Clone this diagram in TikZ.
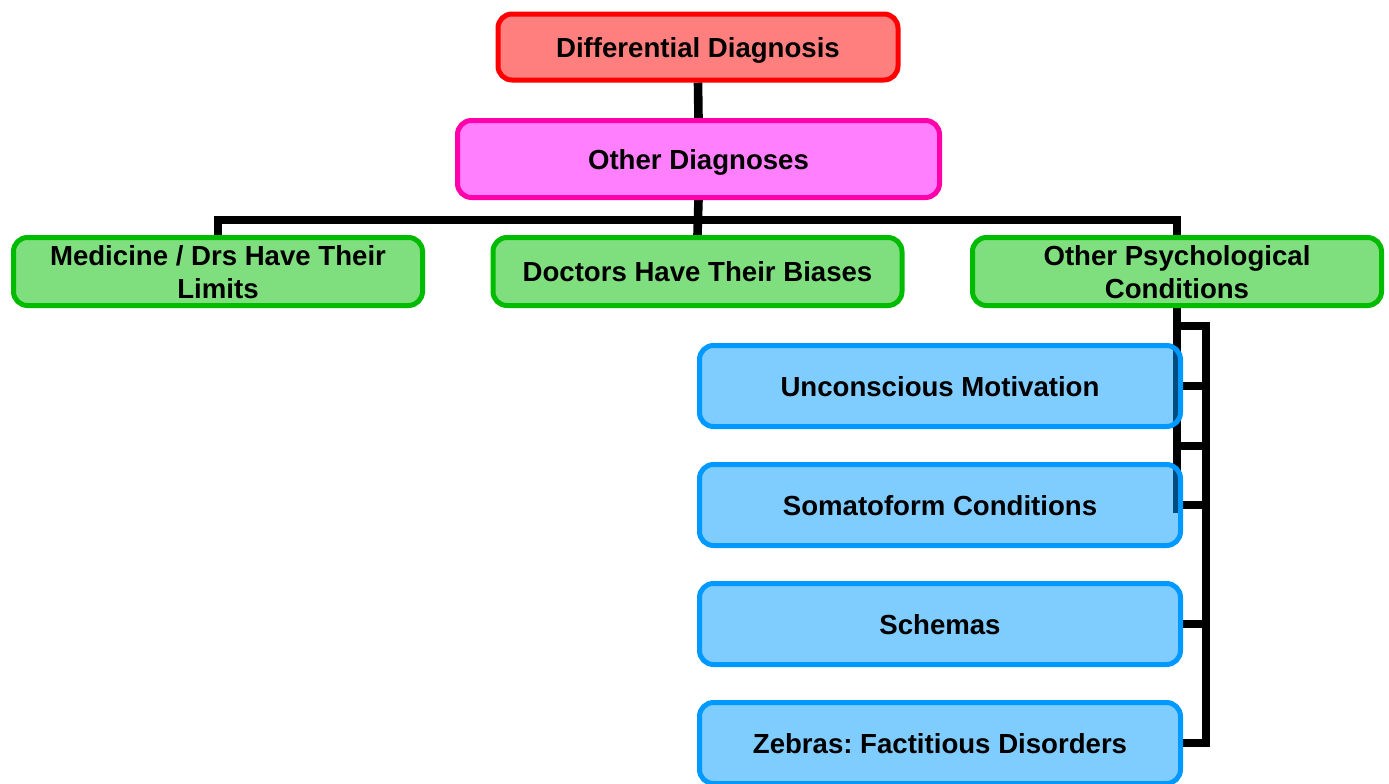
\documentclass[tikz,border=0pt]{standalone}
\usepackage{fontspec}
\setmainfont{Liberation Sans}
\usepackage{xcolor}
\usetikzlibrary{calc, backgrounds}
\definecolor{ddred}{HTML}{FF0000}
\definecolor{odpink}{HTML}{FF00FF}
\definecolor{odedge}{HTML}{FF00AA}
\definecolor{grgreen}{HTML}{00C000}
\definecolor{gredge}{HTML}{00BB00}
\definecolor{blblue}{HTML}{0099FF}
\frenchspacing

\begin{document}
\begin{tikzpicture}[x=0.5pt, y=-0.5pt,
	box/.style={draw, line width=2.5pt, rounded corners=7pt, fill opacity=0.5, text opacity=1, inner sep=0pt, text depth=0pt, align=center, font=\bfseries\fontsize{13.8}{16.5}\selectfont},
	topbox/.style={box, draw=ddred, fill=ddred, minimum width=200pt, minimum height=33pt},
	midbox/.style={box, draw=odedge, fill=odpink, minimum width=241pt, minimum height=38.5pt},
	subbox/.style={box, draw=gredge, fill=grgreen, minimum width=204.5pt, minimum height=34pt},
	leafbox/.style={box, draw=blblue, fill=blblue, minimum width=240.5pt, minimum height=40.5pt},
	link/.style={line width=4.3pt}]
	\useasboundingbox (0,0) rectangle (1389,783);
	\clip (0,0) rectangle (1389,783);
	\node [topbox] (dd) at (698,47) {Differential Diagnosis};
	\node [midbox] (od) at (698.5,159) {Other Diagnoses};
	\node [subbox] (med) at (218,271.5) {Medicine / Drs Have Their\\Limits};
	\node [subbox] (bias) at (697.5,271.5) {Doctors Have Their Biases};
	\node [subbox] (psych) at (1177,271.5) {Other Psychological\\Conditions};
	\node [leafbox] (unc) at (940,386) {Unconscious Motivation};
	\node [leafbox] (som) at (940,505) {Somatoform Conditions};
	\node [leafbox] (sch) at (940,624) {Schemas};
	\node [leafbox] (zeb) at (940,743) {Zebras: Factitious Disorders};
	\coordinate (J) at (698,220);
	\coordinate (R) at (1206,326);
	\begin{scope}[on background layer]
		\draw [link] (dd.south) -- (od.north);
		\draw [link] (od.south) -- (bias.north);
		\draw [link] (med.north) |- (J) -| (psych.north);
		\draw [link] (psych.south) -- ++(0,205);
		\draw [link] (psych.south |- R) -- (R) |- (zeb.east);
		\draw [link] (unc.east) -- (unc.east -| R);
		\draw [link] (psych.south |- 0,446) -- (R |- 0,446);
		\draw [link] (som.east) -- (som.east -| R);
		\draw [link] (sch.east) -- (sch.east -| R);
	\end{scope}
\end{tikzpicture}
\end{document}
